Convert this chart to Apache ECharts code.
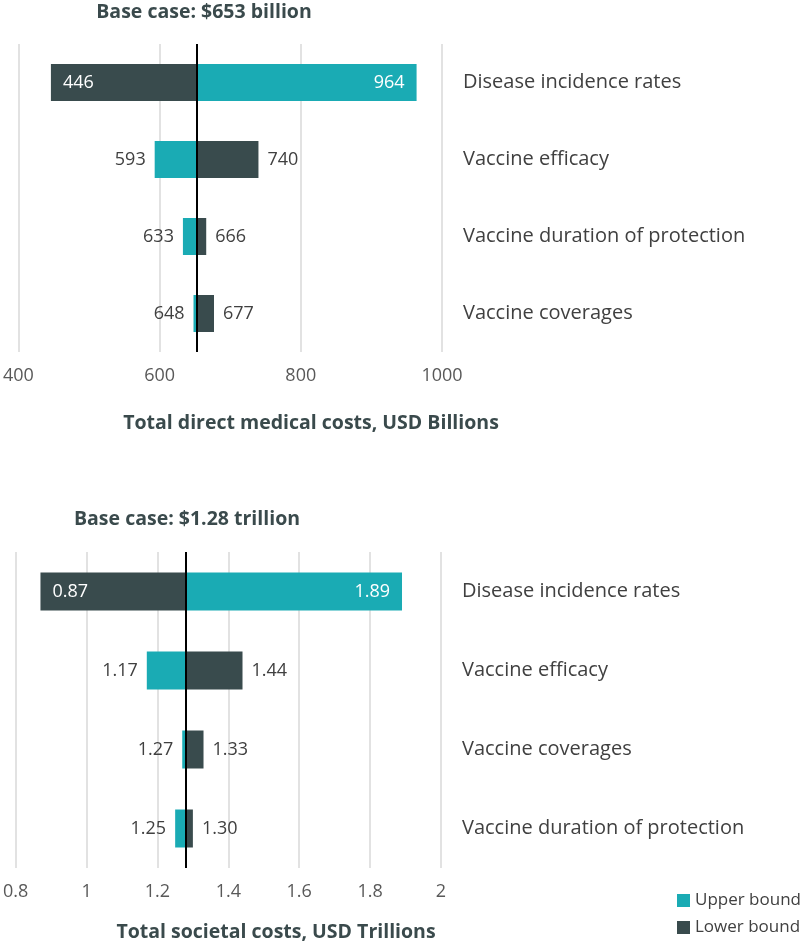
<!DOCTYPE html>
<html>
<head>
<meta charset="utf-8">
<script src="https://cdn.jsdelivr.net/npm/echarts@6/dist/echarts.min.js"></script>
<style>
html,body{margin:0;padding:0;background:#fff;}
#chart{width:800px;height:941px;}
</style>
</head>
<body>
<div id="chart"></div>
<script>
// ---- Data ----
const topCategories = ['Disease incidence rates', 'Vaccine efficacy', 'Vaccine duration of protection', 'Vaccine coverages'];
const topBase = 653;
const topUpper = [964, 593, 633, 648];
const topLower = [446, 740, 666, 677];
const topTicks = { min: 400, max: 1000, interval: 200 };

const botCategories = ['Disease incidence rates', 'Vaccine efficacy', 'Vaccine coverages', 'Vaccine duration of protection'];
const botBase = 1.28;
const botUpper = [1.89, 1.17, 1.27, 1.25];
const botLower = [0.87, 1.44, 1.33, 1.30];
const botTicks = { min: 0.8, max: 2, interval: 0.2 };

const CYAN = '#1aabb4';
const DARK = '#394b4d';
const FONT = 'Open Sans';
const TXT = '#404040';

function buildSeries(gridIdx, base, upper, lower, decimals, barWidth) {
  const series = [];
  const defs = [
    { name: 'Upper bound', vals: upper, color: CYAN, stack: 'u' + gridIdx },
    { name: 'Lower bound', vals: lower, color: DARK, stack: 'l' + gridIdx }
  ];
  defs.forEach((d, k) => {
    const isLargestRow = i => i === 0;
    series.push({
      type: 'bar', name: d.name + '_ph' + gridIdx, stack: d.stack,
      xAxisIndex: gridIdx, yAxisIndex: gridIdx,
      barWidth: barWidth, barGap: '-100%',
      itemStyle: { color: 'transparent' },
      emphasis: { disabled: true }, silent: true, tooltip: { show: false },
      data: d.vals.map(v => Math.min(v, base))
    });
    series.push({
      type: 'bar', name: d.name, stack: d.stack,
      xAxisIndex: gridIdx, yAxisIndex: gridIdx,
      barWidth: barWidth, barGap: '-100%',
      itemStyle: { color: d.color },
      emphasis: { disabled: true },
      label: {
        show: true, fontFamily: FONT, fontSize: 18, color: TXT,
        formatter: p => d.vals[p.dataIndex].toFixed(decimals)
      },
      data: d.vals.map((v, i) => {
        const left = v < base;
        let pos, dist = 9, col = TXT;
        if (isLargestRow(i)) { pos = left ? 'insideLeft' : 'insideRight'; dist = 12; col = '#ffffff'; }
        else { pos = left ? 'left' : 'right'; }
        return { value: Math.abs(v - base), label: { position: pos, distance: dist, color: col } };
      }),
      markLine: k === 1 ? {
        silent: true, symbol: 'none', label: { show: false },
        lineStyle: { color: '#000', width: 2, type: 'solid' },
        data: [{ xAxis: base }]
      } : undefined
    });
  });
  return series;
}

function xAxisDef(gridIdx, t) {
  return {
    type: 'value', gridIndex: gridIdx, min: t.min, max: t.max, interval: t.interval,
    axisLine: { show: false }, axisTick: { show: false },
    splitLine: { show: true, lineStyle: { color: '#d9d9d9', width: 1.5 } },
    axisLabel: { fontFamily: FONT, fontSize: 18, color: '#595959', margin: 15, formatter: v => String(+v.toFixed(2)) }
  };
}
function yAxisDef(gridIdx, cats) {
  return {
    type: 'category', gridIndex: gridIdx, data: cats, inverse: true, position: 'right',
    axisLine: { show: false }, axisTick: { show: false }, splitLine: { show: false },
    axisLabel: { fontFamily: FONT, fontSize: 20, color: TXT, margin: 21, align: 'left' }
  };
}

const titleStyle = { fontFamily: FONT, fontSize: 19.5, fontWeight: 'bold', color: '#3a4a4c' };

const option = {
  animation: false,
  backgroundColor: '#fff',
  title: [
    { text: 'Base case: $653 billion', left: 204, top: 2, padding: 0, textAlign: 'center', textStyle: titleStyle },
    { text: 'Total direct medical costs, USD Billions', left: 311, top: 413, padding: 0, textAlign: 'center', textStyle: titleStyle },
    { text: 'Base case: $1.28 trillion', left: 187, top: 509, padding: 0, textAlign: 'center', textStyle: titleStyle },
    { text: 'Total societal costs, USD Trillions', left: 276, top: 922, padding: 0, textAlign: 'center', textStyle: titleStyle }
  ],
  legend: {
    data: ['Upper bound', 'Lower bound'], orient: 'vertical', left: 677, top: 892, padding: 0,
    icon: 'rect', itemWidth: 13, itemHeight: 13, itemGap: 10,
    textStyle: { fontFamily: FONT, fontSize: 17, color: TXT }
  },
  grid: [
    { left: 15, top: 44, width: 427, height: 308 },
    { left: 15, top: 552, width: 426, height: 316 }
  ],
  xAxis: [xAxisDef(0, topTicks), xAxisDef(1, botTicks)],
  yAxis: [yAxisDef(0, topCategories), yAxisDef(1, botCategories)],
  series: [].concat(
    buildSeries(0, topBase, topUpper, topLower, 0, 37),
    buildSeries(1, botBase, botUpper, botLower, 2, 38)
  )
};

const chart = echarts.init(document.getElementById('chart'), null, { renderer: 'canvas' });
chart.setOption(option);
</script>
</body>
</html>
